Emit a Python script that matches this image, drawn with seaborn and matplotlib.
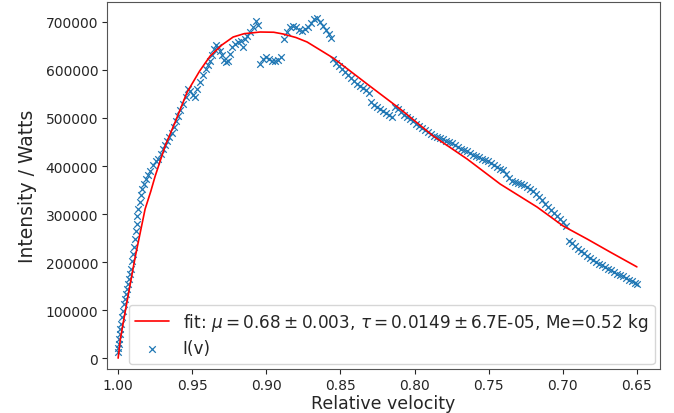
import numpy as np
import pandas as pd
import matplotlib
matplotlib.use("Agg")
import matplotlib.pyplot as plt
import seaborn as sns

# measured intensity vs relative velocity
velocity = [
    1.0000, 1.0000, 0.9993, 0.9993, 0.9987, 0.9987, 0.9980, 0.9973, 0.9966, 0.9960,
    0.9953, 0.9946, 0.9939, 0.9933, 0.9926, 0.9919, 0.9912, 0.9906, 0.9899, 0.9892,
    0.9885, 0.9879, 0.9872, 0.9872, 0.9865, 0.9852, 0.9845, 0.9838, 0.9825, 0.9811,
    0.9798, 0.9784, 0.9764, 0.9744, 0.9730, 0.9710, 0.9696, 0.9683, 0.9669, 0.9656,
    0.9636, 0.9622, 0.9609, 0.9595, 0.9582, 0.9561, 0.9541, 0.9528, 0.9514, 0.9494,
    0.9480, 0.9467, 0.9447, 0.9426, 0.9406, 0.9393, 0.9379, 0.9366, 0.9352, 0.9339,
    0.9325, 0.9312, 0.9298, 0.9285, 0.9271, 0.9258, 0.9244, 0.9231, 0.9210, 0.9190,
    0.9170, 0.9156, 0.9143, 0.9129, 0.9109, 0.9089, 0.9069, 0.9055, 0.9042, 0.9021,
    0.9001, 0.8981, 0.8961, 0.8940, 0.8920, 0.8900, 0.8880, 0.8859, 0.8839, 0.8819,
    0.8799, 0.8778, 0.8758, 0.8738, 0.8718, 0.8697, 0.8677, 0.8657, 0.8637, 0.8616,
    0.8596, 0.8576, 0.8562, 0.8549, 0.8529, 0.8508, 0.8488, 0.8468, 0.8448, 0.8427,
    0.8407, 0.8387, 0.8367, 0.8346, 0.8326, 0.8306, 0.8292, 0.8272, 0.8252, 0.8232,
    0.8211, 0.8191, 0.8171, 0.8151, 0.8130, 0.8110, 0.8090, 0.8070, 0.8049, 0.8029,
    0.8009, 0.7989, 0.7968, 0.7948, 0.7928, 0.7908, 0.7887, 0.7867, 0.7847, 0.7827,
    0.7806, 0.7786, 0.7766, 0.7746, 0.7725, 0.7705, 0.7685, 0.7665, 0.7644, 0.7624,
    0.7604, 0.7584, 0.7563, 0.7543, 0.7523, 0.7503, 0.7482, 0.7462, 0.7442, 0.7422,
    0.7401, 0.7381, 0.7361, 0.7341, 0.7320, 0.7300, 0.7280, 0.7260, 0.7240, 0.7219,
    0.7199, 0.7179, 0.7159, 0.7138, 0.7118, 0.7098, 0.7078, 0.7057, 0.7037, 0.7017,
    0.6997, 0.6976, 0.6956, 0.6936, 0.6916, 0.6895, 0.6875, 0.6855, 0.6835, 0.6814,
    0.6794, 0.6774, 0.6754, 0.6733, 0.6713, 0.6693, 0.6672, 0.6652, 0.6632, 0.6612,
    0.6591, 0.6571, 0.6551, 0.6531, 0.6510, 0.6500,
]
intensity = [
    12500, 20800, 29200, 39600, 50000, 60400, 70800, 85400, 97900, 112500,
    122900, 133300, 143700, 154100, 164600, 175000, 185400, 202100, 216600, 231200,
    247900, 264500, 279100, 295800, 310400, 325000, 339500, 352000, 362400, 372900,
    381200, 389500, 402000, 410400, 414500, 424900, 435300, 443700, 452000, 460300,
    468700, 481200, 493700, 504100, 516600, 529100, 543700, 560300, 556200, 547800,
    543700, 560300, 574900, 589500, 602000, 610300, 618700, 631100, 643600, 652000,
    647800, 639500, 631100, 620700, 616600, 618700, 633200, 647800, 654100, 658200,
    660300, 647800, 664500, 670700, 679100, 689500, 702000, 693600, 612400, 622800,
    627000, 622800, 618700, 618700, 620700, 627000, 664500, 679100, 689500, 691600,
    689500, 683200, 681100, 685300, 689500, 697800, 706100, 708200, 699900, 691600,
    683200, 674900, 666600, 622800, 614500, 608200, 602000, 595700, 589500, 583200,
    577000, 570700, 566600, 562400, 558200, 552000, 533200, 527000, 522800, 518700,
    514500, 510300, 506200, 502000, 522800, 518700, 512400, 506200, 502000, 497800,
    493700, 487400, 483300, 479100, 474900, 470800, 466600, 462400, 460300, 458300,
    456200, 452000, 449900, 447800, 443700, 439500, 435300, 433300, 431200, 427000,
    422800, 420800, 418700, 414500, 412400, 410400, 406200, 402000, 397900, 393700,
    391600, 383300, 374900, 368700, 366600, 364500, 362400, 360400, 356200, 352000,
    347900, 341600, 335400, 329100, 320800, 314500, 308300, 302000, 295800, 289600,
    283300, 275000, 243700, 239500, 233300, 227000, 222900, 218700, 212500, 208300,
    204200, 200000, 195800, 193700, 189600, 185400, 183300, 179100, 175000, 172900,
    170800, 166600, 162500, 160400, 156200, 154100,
]

# fitted curve
fit_velocity = [1.0, 0.9985, 0.9953, 0.9885, 0.9818, 0.978, 0.975, 0.9683, 0.9615,
                0.9534, 0.945, 0.9379, 0.93, 0.9224, 0.915, 0.9042, 0.895, 0.8887,
                0.88, 0.8725, 0.8549, 0.832, 0.8097, 0.7874, 0.7645, 0.7422, 0.7173,
                0.6997, 0.6835, 0.668, 0.65]
fit_intensity = [0, 39600, 95800, 210400, 310400, 347000, 379100, 441600, 491600,
                 554100, 597800, 629100, 652000, 668600, 675500, 679000, 678500, 674900,
                 667500, 658200, 624900, 570700, 518700, 462400, 414500, 362400, 314500,
                 275000, 247900, 220800, 190000]

fit_label = r"fit: $\mu=0.68\pm0.003$, $\tau=0.0149\pm6.7$E-05, Me=0.52 kg"

sns.set_style("ticks")
plt.rcParams.update({'font.size': 10})

data_df = pd.DataFrame({"v": velocity, "I": intensity})
fit_df = pd.DataFrame({"v": fit_velocity, "I": fit_intensity})

fig = plt.figure(figsize=(6.74, 4.14), dpi=100)
ax = fig.add_axes([0.159, 0.106, 0.820, 0.887])

sns.lineplot(data=fit_df, x="v", y="I", color="red", linewidth=1.2,
             label=fit_label, ax=ax, sort=False)
sns.scatterplot(data=data_df, x="v", y="I", marker="x", color="#1f77b4",
                s=22, linewidth=0.9, label="I(v)", ax=ax)

ax.set_xlim(1.0074, 0.6345)
ax.set_ylim(-22900, 741700)
ax.set_xticks([1.00, 0.95, 0.90, 0.85, 0.80, 0.75, 0.70, 0.65])
ax.set_xticklabels(["1.00", "0.95", "0.90", "0.85", "0.80", "0.75", "0.70", "0.65"])
ax.set_yticks(range(0, 700001, 100000))
ax.set_yticklabels([str(t) for t in range(0, 700001, 100000)])
ax.tick_params(length=3.5, pad=3)
ax.set_xlabel("Relative velocity", fontsize=12.5, labelpad=1)
ax.set_ylabel("Intensity / Watts", fontsize=13.5, labelpad=6)
for s in ax.spines.values():
    s.set_color("#555555")

ax.legend(loc="lower right", fontsize=12.2, frameon=True, borderaxespad=0.3,
          labelspacing=0.35)

fig.savefig("out.png", dpi=100)
plt.close(fig)
